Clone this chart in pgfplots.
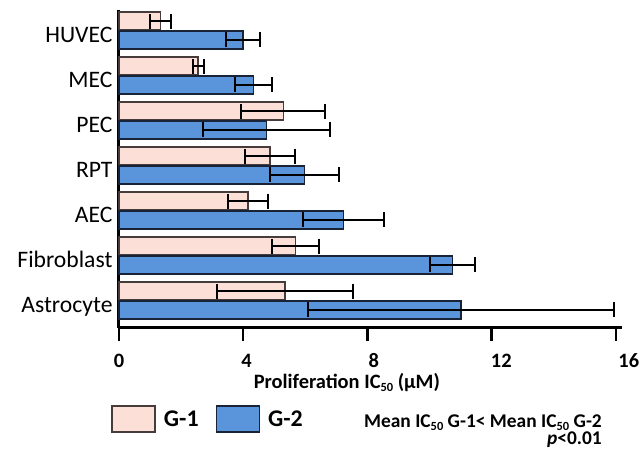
\documentclass[border=0pt]{standalone}
\usepackage{fontspec}
\setmainfont{Carlito}
\usepackage{pgfplots}
\pgfplotsset{compat=1.18}
\usepackage{pgfplotstable}
\definecolor{gonefill}{RGB}{252,224,215}
\definecolor{goneedge}{RGB}{70,60,60}
\definecolor{gtwofill}{RGB}{90,149,220}
\definecolor{gtwoedge}{RGB}{25,35,55}
\newcommand{\sub}[2]{\raisebox{-#1}{\fontsize{12.5}{12.5}\selectfont #2}}

% y: 0=Astrocyte ... 6=HUVEC ; G-1 drawn at y+0.21, G-2 at y-0.21
\pgfplotstableread{
y     val    err
6.21  1.34   0.34
5.21  2.55   0.18
4.21  5.29   1.35
3.21  4.87   0.80
2.21  4.15   0.64
1.21  5.69   0.75
0.21  5.35   2.18
}\gone
\pgfplotstableread{
y     val    err
5.79  4.00   0.54
4.79  4.33   0.60
3.79  4.75   2.06
2.79  5.98   1.12
1.79  7.23   1.30
0.79  10.74  0.72
-0.21 11.02  4.92
}\gtwo

\begin{document}
\begin{tikzpicture}
\begin{axis}[
  at={(0,0)}, anchor=south west,
  scale only axis,
  width=503bp, height=317.7bp,
  xmin=0, xmax=16.2,
  ymin=-0.604, ymax=6.456,
  axis x line*=bottom,
  axis y line*=left,
  axis line style={line width=3bp, black, -},
  xtick={0,4,8,12,16},
  tick align=outside,
  xtick style={line width=2.5bp, black},
  major tick length=13bp,
  xticklabel style={font=\bfseries\fontsize{20.5}{20.5}\selectfont, anchor=base,
    yshift=-26.5bp, xshift={\ticknum*3.25bp}},
  ytick={0,1,2,3,4,5,6},
  yticklabels={Astrocyte,Fibroblast,AEC,RPT,PEC,MEC,HUVEC},
  ytick style={draw=none},
  yticklabel style={font=\fontsize{23.7}{23.7}\selectfont, anchor=base east, yshift=-11.5bp, xshift=10bp},
  /pgf/number format/assume math mode=true,
  xlabel={Proliferation IC\sub{3bp}{50} (μM)},
  xlabel style={font=\bfseries\fontsize{20.5}{20.5}\selectfont, at={(axis description cs:0.453,-0.1926)}, anchor=base},
  xbar, bar width=0.4, bar shift=0pt,
  legend style={at={(axis description cs:-0.015,-0.2874)}, anchor=west, draw=none, fill=none,
    legend columns=2, inner sep=0pt, outer sep=0pt,
    font=\bfseries\fontsize{24}{24}\selectfont,
    nodes={inner sep=0pt},
    /tikz/every odd column/.append style={column sep=8bp},
    /tikz/every even column/.append style={column sep=17bp}},
  clip=false,
]
\addplot[forget plot, fill=gonefill, draw=goneedge, line width=1.5bp,
  error bars/.cd, x dir=both, x explicit,
  error bar style={line width=2bp, black}, error mark options={line width=2bp, black, mark size=7.5bp, rotate=90}]
  table[x=val, y=y, x error=err]{\gone};
\addplot[forget plot, fill=gtwofill, draw=gtwoedge, line width=1.5bp,
  error bars/.cd, x dir=both, x explicit,
  error bar style={line width=2bp, black}, error mark options={line width=2bp, black, mark size=7.5bp, rotate=90}]
  table[x=val, y=y, x error=err]{\gtwo};
\addlegendimage{legend image code/.code={\draw[fill=gonefill, draw=goneedge, line width=1.5bp] (0bp,-13bp) rectangle (43bp,13bp);}}
\addlegendentry{G-1}
\addlegendimage{legend image code/.code={\draw[fill=gtwofill, draw=gtwoedge, line width=1.5bp] (0bp,-13bp) rectangle (43bp,13bp);}}
\addlegendentry{G-2}
\end{axis}
\node[anchor=base east, align=right, font=\bfseries\fontsize{19.5}{16.5}\selectfont, inner sep=0pt] at (483bp,-116.3bp) {Mean IC\sub{3bp}{50} G-1< Mean IC\sub{3bp}{50} G-2\\\textit{p}<0.01};
\pgfresetboundingbox
\path[use as bounding box] (-119bp,-127.3bp) rectangle (522bp,327.7bp);
\end{tikzpicture}
\end{document}
